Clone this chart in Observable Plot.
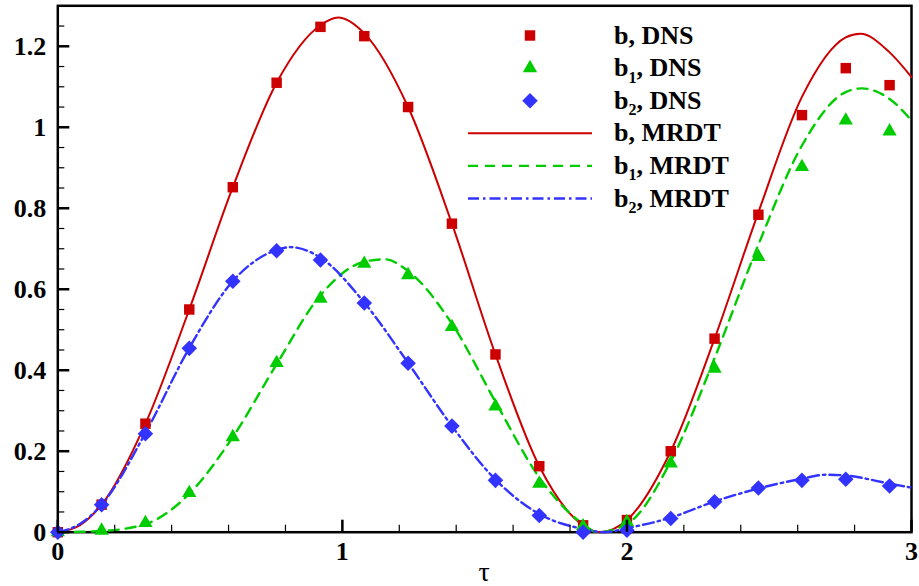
<!DOCTYPE html>
<html>
<head>
<meta charset="utf-8">
<script src="https://cdn.jsdelivr.net/npm/d3@7"></script>
<script src="https://cdn.jsdelivr.net/npm/@observablehq/plot@0.6"></script>
<style>
  html, body { margin: 0; padding: 0; background: #fff; }
  #chart { width: 919px; height: 586px; }
</style>
</head>
<body>
<div id="chart"></div>
<script>
// DNS samples, taken every 2/13 in tau
const dnsTau = [0, 0.154, 0.308, 0.462, 0.615, 0.769, 0.923, 1.077, 1.231, 1.385,
                1.538, 1.692, 1.846, 2.0, 2.154, 2.308, 2.462, 2.615, 2.769, 2.923];
const bDns  = [0, 0.068, 0.268, 0.550, 0.852, 1.110, 1.248, 1.225, 1.050, 0.762,
               0.439, 0.163, 0.017, 0.030, 0.200, 0.478, 0.784, 1.030, 1.146, 1.104];
const b1Dns = [0, 0.004, 0.023, 0.097, 0.235, 0.418, 0.577, 0.663, 0.635, 0.507,
               0.311, 0.120, 0.015, 0.025, 0.170, 0.404, 0.680, 0.902, 1.017, 0.990];
const b2Dns = [0, 0.068, 0.243, 0.454, 0.620, 0.695, 0.672, 0.566, 0.417, 0.262,
               0.128, 0.041, 0.000, 0.005, 0.034, 0.075, 0.109, 0.128, 0.131, 0.114];

// MRDT model curves
const bMrdtTau = [0, 0.077, 0.154, 0.308, 0.462, 0.615, 0.769, 0.923, 0.985, 1.077, 1.231, 1.385,
                  1.538, 1.692, 1.846, 1.906, 2.0, 2.154, 2.308, 2.462, 2.615, 2.769, 2.82, 2.923, 3.0];
const bMrdt    = [0, 0.017, 0.068, 0.268, 0.550, 0.852, 1.110, 1.252, 1.271, 1.232, 1.050, 0.762,
                  0.439, 0.163, 0.017, 0, 0.030, 0.200, 0.478, 0.790, 1.075, 1.222, 1.231, 1.185, 1.124];

const b1MrdtTau = [0, 0.154, 0.308, 0.462, 0.615, 0.769, 0.923, 1.077, 1.15, 1.231, 1.385, 1.538,
                   1.692, 1.846, 1.895, 2.0, 2.154, 2.308, 2.462, 2.615, 2.769, 2.826, 2.923, 3.0];
const b1Mrdt    = [0, 0.003, 0.020, 0.095, 0.235, 0.415, 0.585, 0.668, 0.674, 0.645, 0.515, 0.322,
                   0.135, 0.020, 0, 0.020, 0.175, 0.430, 0.710, 0.955, 1.087, 1.096, 1.070, 1.017];

const b2MrdtTau = [0, 0.077, 0.154, 0.308, 0.462, 0.615, 0.769, 0.818, 0.923, 1.077, 1.231, 1.385,
                   1.538, 1.692, 1.846, 1.92, 2.0, 2.154, 2.308, 2.462, 2.615, 2.70, 2.769, 2.923, 3.0];
const b2Mrdt    = [0, 0.020, 0.068, 0.245, 0.455, 0.620, 0.697, 0.704, 0.678, 0.567, 0.418, 0.262,
                   0.130, 0.045, 0.008, 0, 0.010, 0.036, 0.076, 0.108, 0.132, 0.142, 0.140, 0.120, 0.110];

// Axis ticks and labels
const xMajor = [0, 1, 2, 3];
const xTickLabels = ["0", "1", "2", "3"];
const yMajor = [0, 0.2, 0.4, 0.6, 0.8, 1.0, 1.2];
const yTickLabels = ["0", "0.2", "0.4", "0.6", "0.8", "1", "1.2"];
const xLabel = "τ";

// Legend entries: base symbol, subscript, method
const seriesBase = ["b", "b", "b"];
const seriesSub = ["", "1", "2"];
const methods = ["DNS", "MRDT"];

const colors = ["#cc0000", "#00cc00", "#3333ff"];
const symbols = ["square", "triangle", "diamond2"];
const radii = [5.9, 5.3, 7.0];
const dashes = [null, "10,7", "11,4,2.5,4"];

const W = 919, H = 586;
const M = {left: 57.3, right: 8, top: 5.3, bottom: 54.3};
const innerW = W - M.left - M.right;
const innerH = H - M.top - M.bottom;
const serif = "Liberation Serif, Times New Roman, serif";

const rows = (t, v) => t.map((d, i) => ({t: d, v: v[i]}));
const curves = [rows(bMrdtTau, bMrdt), rows(b1MrdtTau, b1Mrdt), rows(b2MrdtTau, b2Mrdt)];
const points = [rows(dnsTau, bDns), rows(dnsTau, b1Dns), rows(dnsTau, b2Dns)];

const xMinor = d3.range(0.2, 3, 0.2).filter(d => Math.abs(d - Math.round(d)) > 1e-6);
const yMinor = d3.range(0.05, 1.3, 0.05).filter(d => Math.abs(d * 5 - Math.round(d * 5)) > 1e-6);

const plot = Plot.plot({
  width: W,
  height: H,
  marginLeft: M.left,
  marginRight: M.right,
  marginTop: M.top,
  marginBottom: M.bottom,
  x: {domain: [0, 3]},
  y: {domain: [0, 1.3]},
  style: {background: "white", fontFamily: serif, overflow: "visible"},
  marks: [
    Plot.frame({stroke: "black", strokeWidth: 2.5}),
    ...curves.map((c, i) => Plot.line(c, {
      x: "t", y: "v", stroke: colors[i], strokeWidth: i === 0 ? 2 : 2.4,
      strokeDasharray: dashes[i], curve: "monotone-x"
    })),
    ...points.map((p, i) => Plot.dot(p, {
      x: "t", y: "v", symbol: symbols[i], r: radii[i], fill: colors[i], stroke: "none"
    })),
    // inward tick marks along the bottom and left edges
    Plot.tickX(xMinor, {x: d => d, insetTop: innerH - 7, stroke: "black", strokeWidth: 1.2}),
    Plot.tickX(xMajor, {x: d => d, insetTop: innerH - 12, stroke: "black", strokeWidth: 2.5}),
    Plot.tickY(yMinor, {y: d => d, insetRight: innerW - 7, stroke: "black", strokeWidth: 1.2}),
    Plot.tickY(yMajor, {y: d => d, insetRight: innerW - 12, stroke: "black", strokeWidth: 2.5}),
    Plot.axisX({
      ticks: xMajor, tickSize: 0, tickPadding: 9, label: null,
      tickFormat: d => xTickLabels[xMajor.indexOf(d)],
      fontSize: 26, fontWeight: "bold", fontFamily: serif, fill: "black"
    }),
    Plot.axisY({
      ticks: yMajor, tickSize: 0, tickPadding: 11.6, label: null,
      tickFormat: d => yTickLabels[yMajor.findIndex(v => Math.abs(v - d) < 1e-9)],
      fontSize: 26, fontWeight: "bold", fontFamily: serif, fill: "black"
    })
  ]
});

document.getElementById("chart").appendChild(plot);

const svg = d3.select(plot);
const xs = plot.scale("x");

// x-axis title, centred under the plotting area
svg.append("text")
  .attr("x", xs.apply(1.5))
  .attr("y", 581)
  .attr("text-anchor", "middle")
  .attr("font-family", serif)
  .attr("font-size", 28)
  .attr("fill", "black")
  .text(xLabel);

// Legend: DNS markers, then MRDT lines
const legend = svg.append("g")
  .attr("font-family", serif)
  .attr("font-weight", "bold")
  .attr("font-size", 26)
  .attr("text-anchor", "start");
const rowH = 32.6, base0 = 43.5, textX = 614, symX = 530, lineX0 = 468, lineX1 = 592;
const entries = [];
methods.forEach(m => seriesBase.forEach((b, i) => entries.push({m, i, b, sub: seriesSub[i]})));
const symbolTypes = {square: d3.symbolSquare, triangle: d3.symbolTriangle, diamond2: d3.symbolDiamond2};

entries.forEach((e, k) => {
  const yb = base0 + k * rowH;
  const yc = yb - 8;
  if (e.m === "DNS") {
    const r = radii[e.i];
    legend.append("path")
      .attr("transform", `translate(${symX},${yc})`)
      .attr("d", d3.symbol(symbolTypes[symbols[e.i]], r * r * Math.PI)())
      .attr("fill", colors[e.i]);
  } else {
    legend.append("line")
      .attr("x1", lineX0).attr("x2", lineX1).attr("y1", yc).attr("y2", yc)
      .attr("stroke", colors[e.i])
      .attr("stroke-width", e.i === 0 ? 2 : 2.4)
      .attr("stroke-dasharray", dashes[e.i]);
  }
  const t = legend.append("text")
    .attr("x", textX).attr("y", yb)
    .attr("text-anchor", "start")
    .attr("fill", "black");
  t.append("tspan").text(e.b);
  if (e.sub) {
    t.append("tspan").attr("font-size", 16).attr("dy", 6.5).text(e.sub);
    t.append("tspan").attr("dy", -6.5).text(", " + e.m);
  } else {
    t.append("tspan").text(", " + e.m);
  }
});
</script>
</body>
</html>
